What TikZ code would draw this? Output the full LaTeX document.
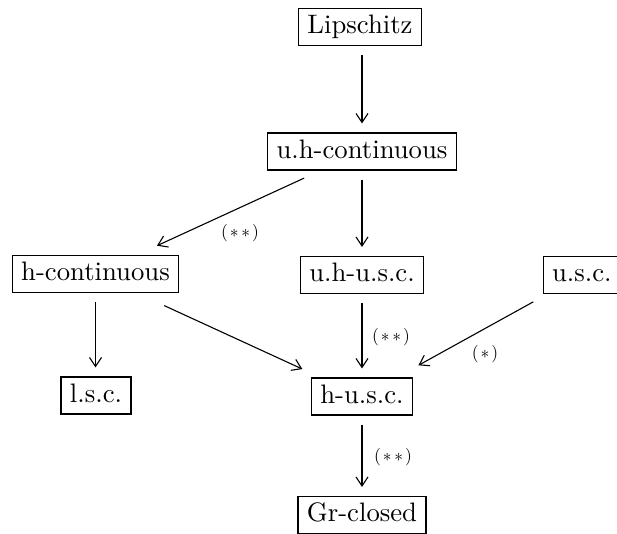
\documentclass[tikz,border=0pt]{standalone}
\usetikzlibrary{arrows.meta}
\newcommand{\bigtxt}[1]{\scalebox{2.67}{#1}}
\newcommand{\labtxt}[1]{\scalebox{1.75}{$#1$}}
\begin{document}
\begin{tikzpicture}[x=1pt,y=-1pt,
  box/.style={draw, line width=1.2pt, font=\fontsize{10}{12}\selectfont,
    text height=18.5pt, text depth=5.5pt, inner xsep=9pt, inner ysep=6.5pt},
  arr/.style={line width=1.1pt, -{Straight Barb[length=9pt,width=12pt,line width=1.1pt]}},
  lab/.style={font=\fontsize{10}{12}\selectfont, inner sep=0pt}]
\useasboundingbox (0,0) rectangle (617,533);
\node[box] (lip) at (360,27) {\bigtxt{Lipschitz}};
\node[box] (uhc) at (362,151.5) {\bigtxt{u.h-continuous}};
\node[box] (hc) at (95.5,274) {\bigtxt{h-continuous}};
\node[box] (uhusc) at (362,275) {\bigtxt{u.h-u.s.c.}};
\node[box, anchor=west] (usc) at (542.5,275) {\bigtxt{u.s.c.}};
\node[box] (lsc) at (96,395.5) {\bigtxt{l.s.c.}};
\node[box] (husc) at (362,396.5) {\bigtxt{h-u.s.c.}};
\node[box] (gr) at (362,515) {\bigtxt{Gr-closed}};
\draw[arr, shorten <=9pt, shorten >=9pt] (lip.south -| uhc) -- (uhc);
\draw[arr, shorten <=9pt, shorten >=9pt] (uhc) -- (uhusc);
\draw[arr, shorten <=18pt, shorten >=22pt] (uhc) -- (hc);
\draw[arr, shorten <=9pt, shorten >=9pt] (hc) -- (hc |- lsc.north);
\draw[arr, shorten <=30pt, shorten >=20pt] (hc) -- (husc);
\draw[arr, shorten <=9pt, shorten >=9pt] (uhusc) -- (husc);
\draw[arr, shorten <=16pt, shorten >=25pt] (usc) -- (husc);
\draw[arr, shorten <=9pt, shorten >=9pt] (husc) -- (gr);
\node[lab] (l1) at (240,233) {\labtxt{(\mkern2mu\ast\mkern3mu\ast\mkern2mu)}};
\node[lab] (l2) at (391,337) {\labtxt{(\mkern2mu\ast\mkern3mu\ast\mkern2mu)}};
\node[lab] (l3) at (485,354) {\labtxt{(\mkern2mu\ast\mkern2mu)}};
\node[lab] (l4) at (393,457) {\labtxt{(\mkern2mu\ast\mkern3mu\ast\mkern2mu)}};
\end{tikzpicture}
\end{document}
